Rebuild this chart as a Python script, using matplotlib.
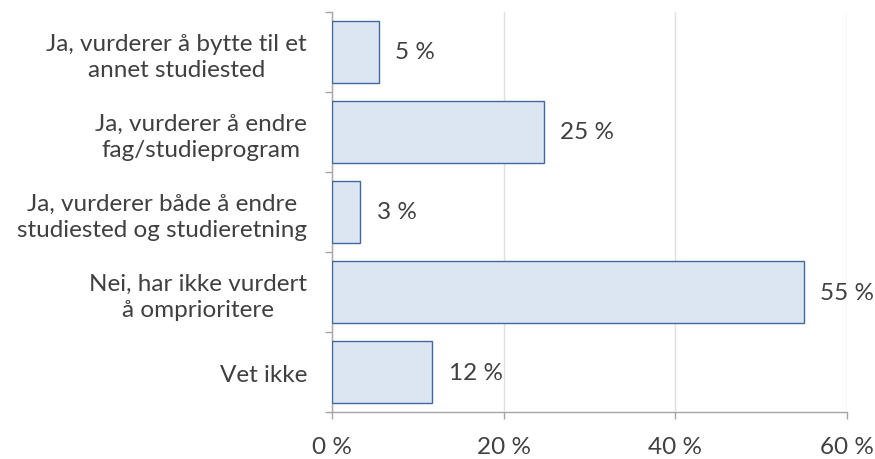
import numpy as np
import matplotlib.pyplot as plt

plt.rcParams['font.family'] = ['Lato', 'DejaVu Sans']

categories = [
    "Ja, vurderer å bytte til et\nannet studiested",
    "Ja, vurderer å endre\nfag/studieprogram",
    "Ja, vurderer både å endre\nstudiested og studieretning",
    "Nei, har ikke vurdert\nå omprioritere",
    "Vet ikke",
]
values = [5.5, 24.7, 3.3, 55.0, 11.7]
value_labels = ["5 %", "25 %", "3 %", "55 %", "12 %"]
xticks = [0, 20, 40, 60]

text_color = "#404040"
axis_color = "#A6A6A6"
fs = 17.5

fig = plt.figure(figsize=(8.75, 4.6), dpi=100)
ax = fig.add_axes([0.3794, 0.102, 0.5886, 0.870])

y = np.arange(len(categories))
ax.barh(y, values, height=0.78, color="#DCE6F2", edgecolor="#41699F", linewidth=1.0, zorder=3)

for yi, v, lab in zip(y, values, value_labels):
    ax.text(v + 1.9, yi, lab, va="center", ha="left", fontsize=fs, color=text_color)

ax.set_xlim(0, 60)
ax.set_ylim(len(categories) - 0.5, -0.5)

ax.set_xticks(xticks)
ax.set_xticklabels([f"{t} %" for t in xticks], fontsize=fs, color=text_color)
ax.xaxis.grid(True, color="#E0E0E0", linewidth=1.0, zorder=0)

# category labels at centres, tick marks at boundaries
ax.set_yticks(y)
ax.set_yticklabels(categories, fontsize=fs, color=text_color, ha="right",
                   multialignment="center", linespacing=1.3)
ax.tick_params(axis="y", length=0, pad=18)
ax.set_yticks(np.arange(-0.5, len(categories)), minor=True)
ax.tick_params(axis="y", which="minor", length=5, color=axis_color, width=1.0)
ax.tick_params(axis="x", length=5, color=axis_color, width=1.0, pad=12)

for s in ["top", "right"]:
    ax.spines[s].set_visible(False)
for s in ["left", "bottom"]:
    ax.spines[s].set_color(axis_color)
    ax.spines[s].set_linewidth(1.0)

fig.savefig("out.png", dpi=100)
